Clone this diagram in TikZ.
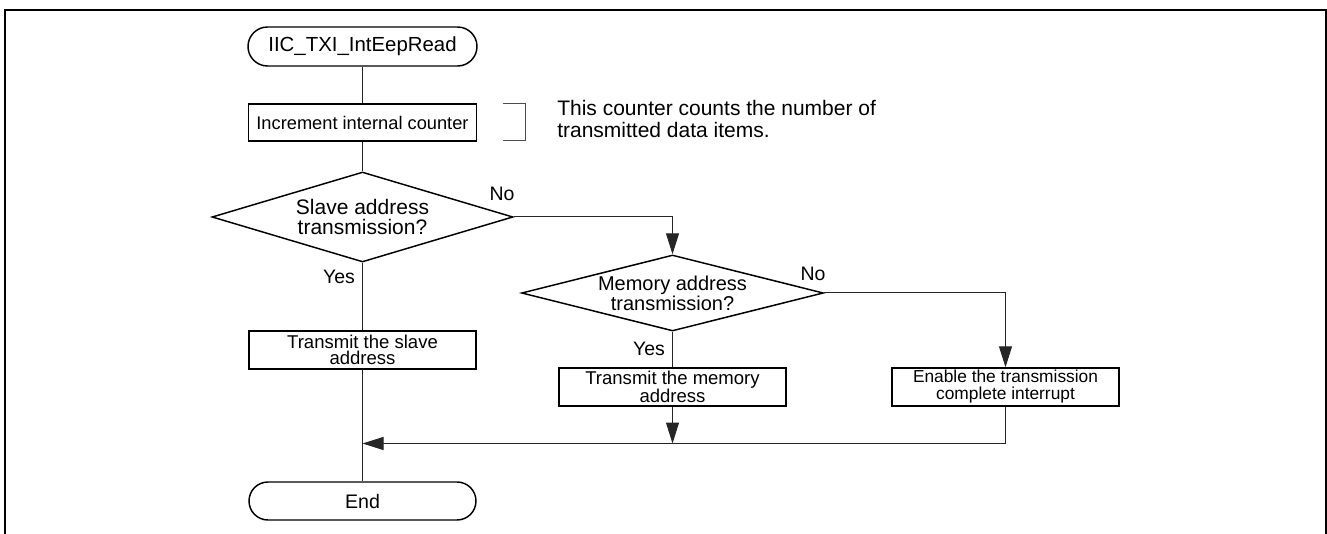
\documentclass[tikz,border=0pt]{standalone}
\usepackage{fontspec}
\setmainfont{Liberation Sans}
\usetikzlibrary{shapes.geometric,arrows.meta}
\tikzset{
  frameline/.style={line width=1.5pt,black},
  term/.style={draw,line width=1.1pt,rounded corners=14.25pt,minimum width=170.25pt,minimum height=28.5pt,inner sep=0pt},
  procbox/.style={draw,line width=1.1pt,rectangle,minimum width=170.25pt,minimum height=28.5pt,inner sep=0pt,align=center},
  decision/.style={draw,line width=1.1pt,diamond,inner sep=0pt,align=center},
  conn/.style={line width=0.75pt,black!85},
  arrconn/.style={conn,-{Triangle[length=15.75pt,width=9.75pt]}},
  lbl/.style={anchor=base,inner sep=0pt,font=\fontsize{14.6pt}{15pt}\selectfont},
  brack/.style={line width=0.75pt,black!70}
}
\begin{document}
\begin{tikzpicture}[x=0.75pt,y=-0.75pt]
\useasboundingbox (0,0) rectangle (1327,534);
% frame
\draw[frameline] (4.7,534) -- (4.7,10) -- (1326,10) -- (1326,534);

% nodes
\node[term,minimum width=171.75pt,minimum height=29.25pt,rounded corners=14.6pt,font=\fontsize{15.3pt}{15pt}\selectfont] (start) at (362.5,46.5) {IIC\_TXI\_IntEepRead};
\node[procbox,minimum width=171pt,minimum height=27.75pt,font=\fontsize{13.7pt}{14pt}\selectfont] (inc) at (362.5,122.5) {Increment internal counter};
\node[decision,minimum width=225.75pt,minimum height=67.5pt,aspect=3.34,font=\fontsize{15.75pt}{15pt}\selectfont] (d1) at (362.5,217) {Slave address\\transmission?};
\node[decision,minimum width=226.5pt,minimum height=57pt,aspect=3.97,font=\fontsize{15pt}{13.1pt}\selectfont] (d2) at (672.5,293) {Memory address\\transmission?};
\node[procbox,font=\fontsize{13.9pt}{12pt}\selectfont] (slave) at (362.5,350) {Transmit the slave\\address};
\node[procbox,font=\fontsize{13.9pt}{12.75pt}\selectfont] (mem) at (672.5,387) {Transmit the memory\\address};
\node[procbox,font=\fontsize{13pt}{12.75pt}\selectfont] (en) at (1005.5,387) {Enable the transmission\\complete interrupt};
\node[term,font=\fontsize{14.7pt}{15pt}\selectfont] (endn) at (362.5,501) {End};
\coordinate (join) at (362.5,443.5);

% comment with bracket
\draw[brack] (503,104) -- (525,104) -- (525,141) -- (503,141);
\node[anchor=base west,inner sep=0pt,align=left,font=\fontsize{15.75pt}{16.5pt}\selectfont] (note) at (557,137.7) {This counter counts the number of\\transmitted data items.};

% connectors
\draw[conn] (start) -- (inc);
\draw[conn] (inc) -- (d1);
\draw[conn] (d1.south) -- (slave.north);
\draw[conn] (slave.south) -- (endn.north);
\draw[arrconn] (d1.east) -| (d2.north);
\draw[conn] (d2.south) -- (mem.north);
\draw[arrconn] (d2.east) -| (en.north);
\draw[arrconn] (mem.south) -- (mem.south |- join);
\draw[arrconn] (en.south) |- (join);

% labels
\node[lbl] (no1) at (502,200.7) {No};
\node[lbl] (yes1) at (339,284) {Yes};
\node[lbl] (no2) at (813,281) {No};
\node[lbl] (yes2) at (649,356) {Yes};
\end{tikzpicture}
\end{document}
